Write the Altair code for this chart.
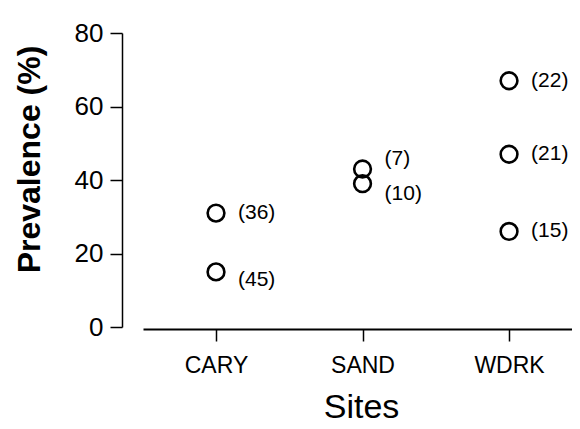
import altair as alt
import pandas as pd

sites = ["CARY", "CARY", "SAND", "SAND", "WDRK", "WDRK", "WDRK"]
prevalence = [31, 15, 43, 39, 67, 47, 26]
sample_n = ["(36)", "(45)", "(7)", "(10)", "(22)", "(21)", "(15)"]
site_order = ["CARY", "SAND", "WDRK"]
y_ticks = [0, 20, 40, 60, 80]

df = pd.DataFrame({"site": sites, "prev": prevalence, "n": sample_n})

x_enc = alt.X(
    "site:N",
    sort=site_order,
    scale=alt.Scale(type="point", padding=0.464, align=0.537),
    axis=alt.Axis(
        title="Sites",
        offset=2,
        domainColor="black",
        domainWidth=2,
        tickColor="black",
        tickWidth=1.5,
        tickSize=12,
        labelPadding=13,
        labelFont="Liberation Sans, Arial",
        labelFontSize=23,
        labelColor="black",
        labelAngle=0,
        titleFont="Liberation Sans, Arial",
        titleFontSize=34,
        titleFontWeight="normal",
        titleColor="black",
        titlePadding=13,
        titleX=218,
        grid=False,
    ),
)
y_enc = alt.Y(
    "prev:Q",
    scale=alt.Scale(domain=[0, 80], nice=False),
    axis=alt.Axis(
        title="Prevalence (%)",
        values=y_ticks,
        offset=21,
        domainColor="black",
        domainWidth=1.5,
        tickColor="black",
        tickWidth=1.5,
        tickSize=12,
        labelPadding=7,
        labelFont="Liberation Sans, Arial",
        labelFontSize=26,
        labelColor="black",
        titleFont="Liberation Sans, Arial",
        titleFontSize=32,
        titleFontWeight="bold",
        titleColor="black",
        titlePadding=28,
        titleY=126,
        grid=False,
    ),
)

base = alt.Chart(df).encode(x=x_enc, y=y_enc)

points = base.mark_point(shape="circle", filled=False, color="black", strokeWidth=2.6, size=280, opacity=1)

def labels(names, dy):
    return (
        base.transform_filter(alt.FieldOneOfPredicate(field="n", oneOf=names))
        .mark_text(align="left", baseline="middle", dx=22, dy=dy, fontSize=21,
                   font="Liberation Sans, Arial", color="black")
        .encode(text="n:N")
    )

lab_mid = labels(["(36)", "(22)", "(21)", "(15)"], 0)
lab_down = labels(["(45)"], 8)
lab_up = labels(["(7)"], -10)
lab_low = labels(["(10)"], 10)

chart = (
    alt.layer(points, lab_mid, lab_down, lab_up, lab_low)
    .properties(width=429, height=294, autosize=alt.AutoSizeParams(type="none"),
                padding={"left": 135, "top": 25, "right": 0, "bottom": 102})
    .configure_view(stroke=None)
)

chart.save("out.html", embed_options={"renderer": "svg", "actions": False})
